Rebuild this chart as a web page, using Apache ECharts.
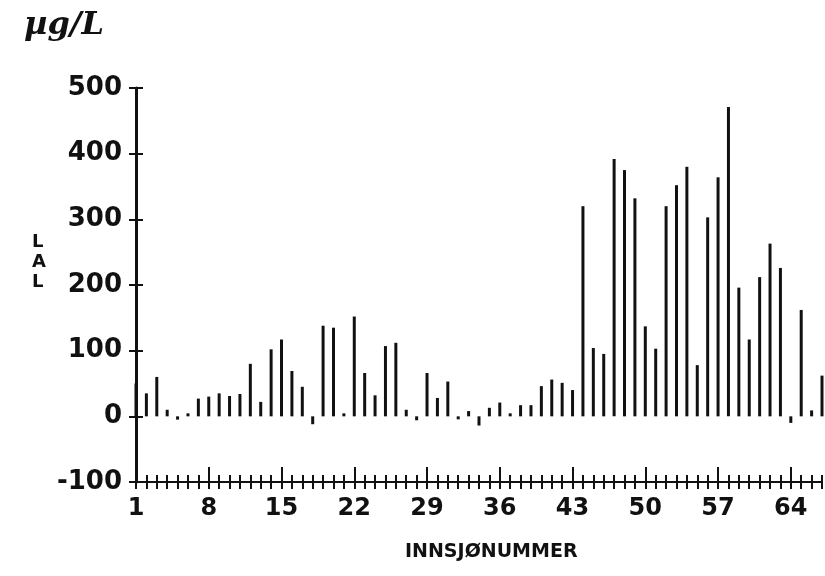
<!DOCTYPE html>
<html>
<head>
<meta charset="utf-8">
<script src="https://cdn.jsdelivr.net/npm/echarts@6/dist/echarts.min.js"></script>
<style>
  html, body { margin: 0; padding: 0; background: #fff; }
  #chart { width: 825px; height: 576px; }
</style>
</head>
<body>
<div id="chart"></div>
<script>
// innsjø nummer 1..67
var lakes = ['1','2','3','4','5','6','7','8','9','10','11','12','13','14','15','16','17',
  '18','19','20','21','22','23','24','25','26','27','28','29','30','31','32','33','34',
  '35','36','37','38','39','40','41','42','43','44','45','46','47','48','49','50','51',
  '52','53','54','55','56','57','58','59','60','61','62','63','64','65','66','67'];

// LAL, µg/L (lest av fra figuren)
var lal = [50, 35, 60, 10, -5, 2, 27, 30, 35, 31, 34, 80, 22, 102, 117, 69, 45,
  -12, 138, 135, 1, 152, 66, 32, 107, 112, 10, -6, 66, 28, 53, -3, 8, -14,
  13, 21, 3, 17, 17, 46, 56, 51, 40, 320, 104, 95, 392, 375, 332, 137, 103,
  320, 352, 380, 78, 303, 364, 471, 196, 117, 212, 263, 226, -10, 162, 9, 62];

var yMin = -100, yMax = 500, yStep = 100;
var labelEvery = 7;

var ink = '#111';
var font = 'DejaVu Sans';

var myChart = echarts.init(document.getElementById('chart'));

var option = {
  backgroundColor: '#fff',
  animation: false,
  grid: { left: 136, right: 3, top: 88, bottom: 94 },
  xAxis: [
    {
      type: 'category',
      data: lakes,
      boundaryGap: false,
      axisLine: { onZero: false, lineStyle: { color: ink, width: 2 } },
      axisTick: { interval: 0, length: 7, lineStyle: { color: ink, width: 2 } },
      axisLabel: {
        interval: labelEvery - 1,
        margin: 15,
        color: ink,
        fontFamily: font,
        fontWeight: 'bold',
        fontSize: 24
      },
      splitLine: { show: false }
    },
    {
      // kryssende smaa streker
      type: 'category',
      data: lakes,
      boundaryGap: false,
      position: 'bottom',
      axisLine: { show: false, onZero: false },
      axisTick: { inside: true, interval: 0, length: 7, lineStyle: { color: ink, width: 2 } },
      axisLabel: { show: false },
      splitLine: { show: false }
    },
    {
      // lange streker ved merkede nummer
      type: 'category',
      data: lakes,
      boundaryGap: false,
      position: 'bottom',
      axisLine: { show: false, onZero: false },
      axisTick: { inside: true, interval: labelEvery - 1, length: 15, lineStyle: { color: ink, width: 2 } },
      axisLabel: { show: false },
      splitLine: { show: false }
    }
  ],
  yAxis: [
    {
      type: 'value',
      min: yMin,
      max: yMax,
      interval: yStep,
      axisLine: { show: true, onZero: false, lineStyle: { color: ink, width: 3 } },
      axisTick: { show: true, length: 7, lineStyle: { color: ink, width: 2 } },
      axisLabel: {
        margin: 14,
        color: ink,
        fontFamily: font,
        fontWeight: 'bold',
        fontSize: 26
      },
      splitLine: { show: false }
    },
    {
      type: 'value',
      min: yMin,
      max: yMax,
      interval: yStep,
      position: 'left',
      axisLine: { show: false, onZero: false },
      axisTick: { show: true, inside: true, length: 7, lineStyle: { color: ink, width: 2 } },
      axisLabel: { show: false },
      splitLine: { show: false }
    }
  ],
  graphic: [
    {
      type: 'text', left: 24, top: 10,
      style: { text: 'µg/L', font: 'italic bold 32px "DejaVu Serif"', fill: ink }
    },
    {
      type: 'text', left: 32, top: 232,
      style: { text: 'L\nA\nL', font: 'bold 18px "DejaVu Sans"', lineHeight: 20, fill: ink, align: 'center' }
    },
    {
      type: 'text', left: 405, top: 543,
      style: { text: 'INNSJØNUMMER', font: 'bold 19px "DejaVu Sans"', fill: ink }
    }
  ],
  series: [
    {
      name: 'LAL',
      type: 'bar',
      xAxisIndex: 0,
      yAxisIndex: 0,
      barWidth: 3,
      barMinHeight: 3,
      itemStyle: { color: ink },
      data: lal
    }
  ]
};

myChart.setOption(option);
</script>
</body>
</html>
